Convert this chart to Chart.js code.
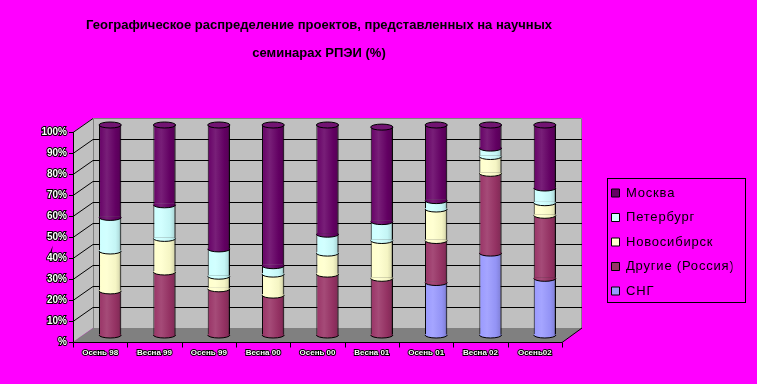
<!DOCTYPE html>
<html>
<head>
<meta charset="utf-8">
<script src="https://cdn.jsdelivr.net/npm/chart.js@4"></script>
<style>
  html, body { margin: 0; padding: 0; background: #ff00ff; }
</style>
</head>
<body>
<canvas id="chart" width="757" height="384"></canvas>
<script>
const seasons = ['Осень 98', 'Весна 99', 'Осень 99', 'Весна 00', 'Осень 00', 'Весна 01', 'Осень 01', 'Весна 02', 'Осень02'];
const sng     = [0, 0, 0, 0, 0, 0, 25, 39, 27];
const others  = [21, 30, 22, 19, 29, 27, 20, 38, 30];
const novosib = [19, 16, 6, 10, 10, 18, 15, 8, 6];
const piter   = [16, 16, 13, 4, 9, 9, 4, 4, 7];
const moscow  = [44, 38, 59, 67, 52, 45, 36, 11, 30];
const yLabels = ['%', '10%', '20%', '30%', '40%', '50%', '60%', '70%', '80%', '90%', '100%'];
const titleLines = ['Географическое распределение проектов, представленных на научных', 'семинарах РПЭИ (%)'];

const FONT = "'Liberation Sans', Arial, sans-serif";
const BAR_PCT = 0.41;
const RY = 3;            // half height of the cylinder ellipses
const DX = 10, DY = -7;  // offset from the middle plane to the back wall

function mix(hex, t) {
  const n = parseInt(hex.slice(1), 16);
  const ch = [n >> 16, (n >> 8) & 255, n & 255]
    .map(c => Math.round(t >= 0 ? c + (255 - c) * t : c * (1 + t)));
  return `rgb(${ch[0]},${ch[1]},${ch[2]})`;
}

function cylinder(ctx, cx, w, base) {
  const g = ctx.createLinearGradient(cx - w / 2, 0, cx + w / 2, 0);
  g.addColorStop(0, mix(base, 0));
  g.addColorStop(0.35, mix(base, 0.12));
  g.addColorStop(0.75, mix(base, -0.04));
  g.addColorStop(1, mix(base, -0.18));
  return g;
}

function barFill(base) {
  return (c) => {
    if (c.type !== 'data' || !c.chart.chartArea) return base;
    const xs = c.chart.scales.x;
    const w = xs.width / seasons.length * BAR_PCT;
    return cylinder(c.chart.ctx, xs.getPixelForValue(c.dataIndex), w, base);
  };
}

const series = [
  { label: 'СНГ', data: sng, color: '#9999ff' },
  { label: 'Другие (Россия)', data: others, color: '#993366' },
  { label: 'Новосибирск', data: novosib, color: '#ffffcc' },
  { label: 'Петербург', data: piter, color: '#ccffff' },
  { label: 'Москва', data: moscow, color: '#660066' },
];

const wall3d = {
  id: 'wall3d',
  afterLayout(chart) {
    // title is centred over the plot, legend sits in its own box on the right
    chart.titleBlock.left = 0;
    chart.titleBlock.right = 638;
    const lg = chart.legend;
    lg.left = 600; lg.right = 600 + lg.width;
    lg.top = 175; lg.bottom = 375;
    if (!lg._spaced) {
      // the old legend text is drawn a little spread out
      const draw = lg.draw;
      lg.draw = function (...args) {
        this.ctx.save();
        this.ctx.letterSpacing = '0.8px';
        draw.apply(this, args);
        this.ctx.restore();
      };
      lg._spaced = true;
    }
  },
  beforeDraw(chart) {
    const { ctx, chartArea: a, scales: { y } } = chart;
    const fl = a.left - DX, fr = a.right - DX, bl = a.left + DX, br = a.right + DX;
    const fy = v => y.getPixelForValue(v) - DY;
    const by = v => y.getPixelForValue(v) + DY;
    ctx.save();
    ctx.fillStyle = '#ff00ff';
    ctx.fillRect(0, 0, chart.width, chart.height);

    ctx.fillStyle = '#c0c0c0';
    ctx.beginPath();
    ctx.moveTo(fl, fy(0)); ctx.lineTo(fl, fy(100)); ctx.lineTo(bl, by(100));
    ctx.lineTo(br, by(100)); ctx.lineTo(br, by(0)); ctx.lineTo(bl, by(0));
    ctx.closePath(); ctx.fill();

    ctx.fillStyle = '#808080';
    ctx.beginPath();
    ctx.moveTo(fl, fy(0)); ctx.lineTo(fr, fy(0)); ctx.lineTo(br, by(0)); ctx.lineTo(bl, by(0));
    ctx.closePath(); ctx.fill();

    // wall edges
    ctx.strokeStyle = '#808080'; ctx.lineWidth = 1;
    ctx.beginPath();
    ctx.moveTo(bl + 0.5, by(0)); ctx.lineTo(bl + 0.5, by(100) + 0.5);
    ctx.lineTo(br - 0.5, by(100) + 0.5); ctx.lineTo(br - 0.5, by(0));
    ctx.stroke();

    // gridlines on back and side wall
    ctx.strokeStyle = '#000';
    ctx.beginPath();
    yLabels.forEach((_, i) => {
      const v = i * 10;
      if (v === 0) return;
      const yb = Math.round(by(v)) + 0.5;
      if (v < 100) { ctx.moveTo(bl, yb); ctx.lineTo(br, yb); }
      ctx.moveTo(fl, Math.round(fy(v)) + 0.5); ctx.lineTo(bl, yb);
    });
    ctx.stroke();

    // front axes
    const y0 = Math.round(fy(0)) + 0.5;
    ctx.beginPath();
    ctx.moveTo(fl + 0.5, Math.round(fy(100))); ctx.lineTo(fl + 0.5, y0);
    ctx.lineTo(fr, y0); ctx.lineTo(br, by(0));
    yLabels.forEach((_, i) => {
      const yy = Math.round(fy(i * 10)) + 0.5;
      ctx.moveTo(fl - 4, yy); ctx.lineTo(fl, yy);
    });
    const step = a.width / seasons.length;
    for (let k = 0; k <= seasons.length; k++) {
      const xx = Math.round(a.left + k * step - DX) + 0.5;
      ctx.moveTo(xx, y0); ctx.lineTo(xx, y0 + 5);
    }
    ctx.stroke();
    ctx.restore();
  },
  afterDatasetsDraw(chart) {
    const ctx = chart.ctx;
    ctx.save();
    ctx.strokeStyle = '#000';
    ctx.lineWidth = 1;
    chart.data.datasets.forEach((ds, i) => {
      const meta = chart.getDatasetMeta(i);
      meta.data.forEach((bar, j) => {
        if (!ds.data[j]) return;
        const { x, y, base, width } = bar.getProps(['x', 'y', 'base', 'width'], true);
        const rx = width / 2;
        const fill = cylinder(ctx, x, width, ds.baseColor);
        // curved front edge where this segment meets the one below
        ctx.beginPath();
        ctx.ellipse(x, base, rx, RY, 0, 0, Math.PI);
        ctx.lineTo(x - rx + 0.5, base - 1);
        ctx.lineTo(x + rx - 0.5, base - 1);
        ctx.closePath();
        ctx.fillStyle = fill;
        ctx.fill();
        ctx.beginPath();
        ctx.ellipse(x, base, rx, RY, 0, 0, Math.PI);
        ctx.stroke();
        // top cap
        if (i === chart.data.datasets.length - 1) {
          ctx.beginPath();
          ctx.ellipse(x, y, rx, RY, 0, 0, Math.PI * 2);
          ctx.fillStyle = mix(ds.baseColor, 0.08);
          ctx.fill();
          ctx.stroke();
        }
        // darker shadow strip on the right side
        ctx.beginPath();
        ctx.moveTo(x + rx - 1, y);
        ctx.lineTo(x + rx - 1, base);
        ctx.strokeStyle = 'rgba(0,0,0,0.35)';
        ctx.stroke();
        ctx.strokeStyle = '#000';
      });
    });
    ctx.restore();
  },
  afterDraw(chart) {
    const { ctx, legend: lg } = chart;
    ctx.save();
    ctx.strokeStyle = '#000';
    ctx.lineWidth = 1;
    ctx.strokeRect(lg.left + 7.5, lg.top + 3.5, 138, 124);
    ctx.restore();
  }
};

new Chart(document.getElementById('chart'), {
  type: 'bar',
  data: {
    labels: seasons,
    datasets: series.map(s => ({
      label: s.label,
      data: s.data,
      baseColor: s.color,
      backgroundColor: barFill(s.color),
      borderColor: '#000',
      borderWidth: 1,
      borderSkipped: false,
      barPercentage: BAR_PCT,
      categoryPercentage: 1,
    })),
  },
  plugins: [wall3d],
  options: {
    responsive: false,
    animation: false,
    layout: { padding: { left: 0, right: 185, top: 0, bottom: 0 } },
    plugins: {
      tooltip: { enabled: false },
      title: {
        display: true,
        text: titleLines,
        color: '#000',
        font: { family: FONT, size: 13, weight: 'bold', lineHeight: 28 / 13 },
        padding: { top: 11, bottom: 58 },
      },
      legend: {
        position: 'chartArea',
        align: 'start',
        reverse: true,
        labels: {
          color: '#000',
          boxWidth: 8,
          boxHeight: 8,
          padding: 11.5,
          font: { family: FONT, size: 13 },
          generateLabels: (chart) => Chart.defaults.plugins.legend.labels.generateLabels(chart)
            .map(item => ({ ...item, fillStyle: chart.data.datasets[item.datasetIndex].baseColor, strokeStyle: '#000', lineWidth: 1 })),
        },
      },
    },
    scales: {
      x: {
        stacked: true,
        grid: { display: false, drawTicks: false },
        border: { display: false },
        afterFit: (scale) => { scale.height = 49; },
        ticks: {
          autoSkip: false,
          maxRotation: 0,
          padding: 13,
          labelOffset: -DX,
          color: '#fff',
          textStrokeColor: '#000',
          textStrokeWidth: 2,
          font: { family: FONT, size: 8, weight: 'bold' },
        },
      },
      y: {
        stacked: true,
        min: 0,
        max: 100,
        grid: { display: false, drawTicks: false },
        border: { display: false },
        afterFit: (scale) => { scale.width = 83; },
        ticks: {
          stepSize: 10,
          autoSkip: false,
          padding: 16,
          labelOffset: -DY,
          color: '#fff',
          textStrokeColor: '#000',
          textStrokeWidth: 2,
          font: { family: FONT, size: 10, weight: 'bold' },
          callback: (v) => yLabels[v / 10],
        },
      },
    },
  },
});
</script>
</body>
</html>
